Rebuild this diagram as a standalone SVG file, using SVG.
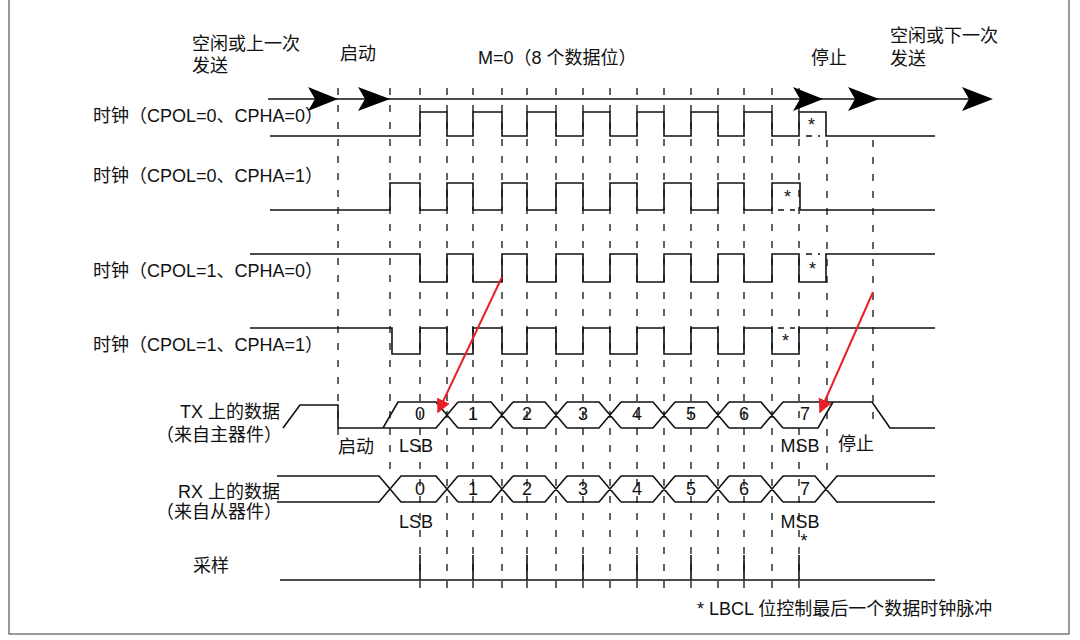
<svg xmlns="http://www.w3.org/2000/svg" width="1080" height="640" viewBox="0 0 1080 640">
<style>
text{font-family:"Liberation Sans","Noto Sans CJK SC",sans-serif;font-size:18px;fill:#111}
.w{fill:none;stroke:#111;stroke-width:1.6}
.d{fill:none;stroke:#111;stroke-width:1.3;stroke-dasharray:7 10}
.ds{fill:none;stroke:#111;stroke-width:1.3;stroke-dasharray:6 6}
.r{stroke:#e8202a;stroke-width:2;fill:none}
</style>
<defs>
<marker id="ah" viewBox="0 0 10 10" refX="9" refY="5" markerWidth="7" markerHeight="7" orient="auto"><path d="M0 0L10 5L0 10z" fill="#e8202a"/></marker>
</defs>
<rect x="1" y="-1" width="1078" height="642" fill="#fff"/>
<rect x="9" y="-2" width="1060" height="636" fill="none" stroke="#555" stroke-width="1.2"/>
<g id="grid">
<path class="d" d="M338 88V440M390 88V470M873 140V420"/>
<path class="d" d="M420 88V590M447 88V590M473 88V590M502 88V590M527 88V590M556 88V590M583 88V590M610 88V590M637 88V590M664 88V590M691 88V590M718 88V590M744 88V590M772 88V590M799 88V590M827 140V470"/>
</g>
<g id="timeline">
<path class="w" d="M268 99H990"/>
<path d="M308 87L338 99L308 111L315 99z" fill="#000"/>
<path d="M358 87L390 99L358 111L365 99z" fill="#000"/>
<path d="M793 87L823 99L793 111L800 99z" fill="#000"/>
<path d="M848 87L879 99L848 111L855 99z" fill="#000"/>
<path d="M962 87L993 99L962 111L969 99z" fill="#000"/>
</g>
<g id="clk1"><path class="w" d="M270 136H420V112H447V136H473V112H502V136H527V112H556V136H583V112H610V136H637V112H664V136H691V112H718V136H744V112H772V136H799V112H826V136H935"/><path class="ds" d="M806 136H820"/><text x="808" y="131" font-size="14">*</text></g>
<g id="clk2"><path class="w" d="M270 210H390V183H420V210H447V183H473V210H502V183H527V210H556V183H583V210H610V183H637V210H664V183H691V210H718V183H744V210H772V183H800V210H935"/><path class="ds" d="M778 210H795"/><text x="784" y="203" font-size="14">*</text></g>
<g id="clk3"><path class="w" d="M250 254H420V282H447V254H473V282H502V254H527V282H556V254H583V282H610V254H637V282H664V254H691V282H718V254H744V282H772V254H799V282H826V254H935"/><path class="ds" d="M806 254H820"/><text x="809" y="275" font-size="14">*</text></g>
<g id="clk4"><path class="w" d="M250 328H392V354H420V328H447V354H473V328H502V354H527V328H556V354H583V328H610V354H637V328H664V354H691V328H718V354H744V328H772V354H799V328H935"/><path class="ds" d="M778 328H795"/><text x="782" y="347" font-size="14">*</text></g>
<g id="tx">
<path class="w" d="M283 428L300 405H338V428H383L398 402H436L458 428M383 428H436L458 402"/>
<path class="w" d="M458 402H491L513 428M458 428H491L513 402M513 402H545L567 428M513 428H545L567 402M567 402H599L621 428M567 428H599L621 402M621 402H653L675 428M621 428H653L675 402M675 402H707L729 428M675 428H707L729 402M729 402H761L783 428M729 428H761L783 402M783 402H872L890 428H935M783 428H818L833 402"/>
</g>
<g id="rx">
<path class="w" d="M277 476H379L401 502H436L458 476M277 502H379L401 476H436L458 502"/>
<path class="w" d="M458 476H491L513 502M458 502H491L513 476M513 476H545L567 502M513 502H545L567 476M567 476H599L621 502M567 502H599L621 476M621 476H653L675 502M621 502H653L675 476M675 476H707L729 502M675 502H707L729 476M729 476H761L783 502M729 502H761L783 476M783 476H815L837 502H935M783 502H815L837 476H935"/>
</g>
<g id="sample"><path class="w" d="M280 580H935M420 555V580M473 555V580M527 555V580M583 555V580M637 555V580M691 555V580M744 555V580M799 555V580"/></g>
<g id="digits" text-anchor="middle" font-size="17">
<text x="420" y="420">0</text><text x="473" y="420">1</text><text x="527" y="420">2</text><text x="583" y="420">3</text><text x="637" y="420">4</text><text x="691" y="420">5</text><text x="744" y="420">6</text><text x="805" y="420">7</text>
<text x="420" y="495">0</text><text x="473" y="495">1</text><text x="527" y="495">2</text><text x="583" y="495">3</text><text x="637" y="495">4</text><text x="691" y="495">5</text><text x="744" y="495">6</text><text x="805" y="495">7</text>
<text x="416" y="452">LSB</text><text x="800" y="452">MSB</text>
<text x="416" y="528">LSB</text><text x="800" y="528">MSB</text>
<text x="804" y="547" font-size="13">*</text>
</g>
<g id="labels">
<text x="192" y="50">空闲或上一次</text><text x="192" y="72">发送</text>
<text x="340" y="60">启动</text>
<text x="478" y="64">M=0（8 个数据位）</text>
<text x="811" y="64">停止</text>
<text x="890" y="42">空闲或下一次</text><text x="890" y="65">发送</text>
<text x="93" y="122">时钟（CPOL=0、CPHA=0）</text>
<text x="93" y="182">时钟（CPOL=0、CPHA=1）</text>
<text x="93" y="277">时钟（CPOL=1、CPHA=0）</text>
<text x="93" y="351">时钟（CPOL=1、CPHA=1）</text>
<text x="280" y="418" text-anchor="end">TX 上的数据</text>
<text x="282" y="441" text-anchor="end">（来自主器件）</text>
<text x="280" y="498" text-anchor="end">RX 上的数据</text>
<text x="282" y="518" text-anchor="end">（来自从器件）</text>
<text x="193" y="572">采样</text>
<text x="338" y="453">启动</text>
<text x="838" y="450">停止</text>
<text x="697" y="615">* LBCL 位控制最后一个数据时钟脉冲</text>
</g>
<g id="arrows">
<path class="r" marker-end="url(#ah)" d="M502 277L438 412"/>
<path class="r" marker-end="url(#ah)" d="M873 292L820 412"/>
</g>
</svg>
